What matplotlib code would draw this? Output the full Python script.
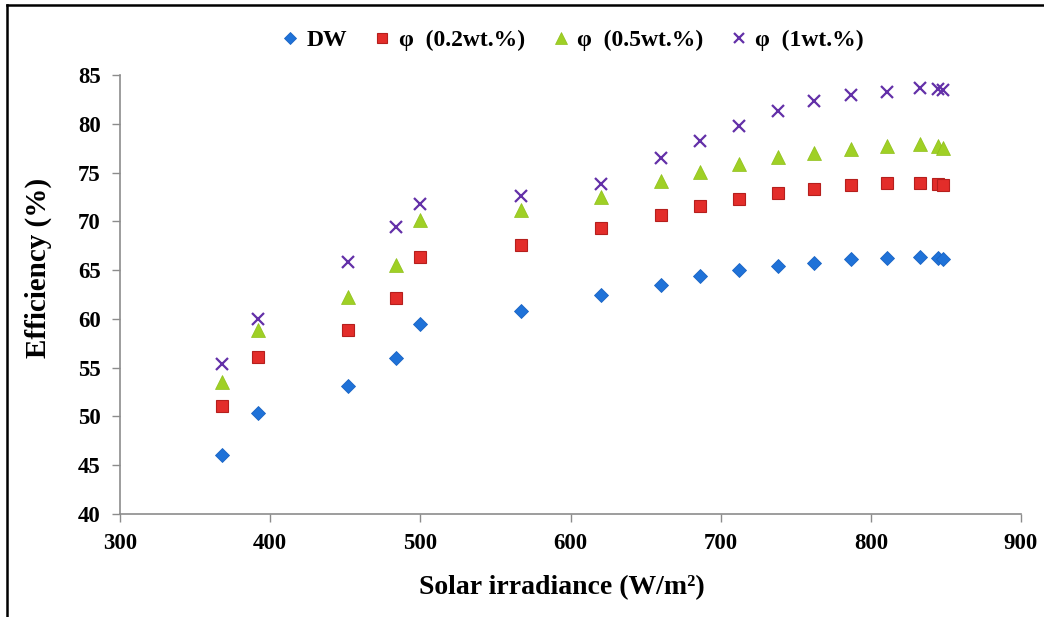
import matplotlib
matplotlib.use("Agg")
import matplotlib.pyplot as plt
from matplotlib.lines import Line2D

# Solar irradiance (W/m2)
irradiance = [368, 392, 452, 484, 500, 567, 620, 660, 686, 712, 738, 762, 787, 811, 833, 845, 848]

# Collector efficiency (%) for each working fluid
eff_dw = [46.0, 50.4, 53.1, 56.0, 59.5, 60.8, 62.4, 63.5, 64.4, 65.0, 65.4, 65.7, 66.1, 66.2, 66.3, 66.2, 66.1]
eff_02 = [51.1, 56.1, 58.9, 62.1, 66.3, 67.6, 69.3, 70.7, 71.6, 72.3, 72.9, 73.3, 73.7, 73.9, 73.9, 73.8, 73.7]
eff_05 = [53.5, 58.9, 62.2, 65.5, 70.1, 71.2, 72.5, 74.1, 75.1, 75.9, 76.6, 77.0, 77.4, 77.7, 77.9, 77.7, 77.5]
eff_1 = [55.4, 60.0, 65.8, 69.4, 71.8, 72.6, 73.8, 76.5, 78.2, 79.8, 81.3, 82.3, 82.9, 83.3, 83.7, 83.6, 83.5]

labels = ["DW", "φ  (0.2wt.%)", "φ  (0.5wt.%)", "φ  (1wt.%)"]
x_ticks = [300, 400, 500, 600, 700, 800, 900]
y_ticks = [40, 45, 50, 55, 60, 65, 70, 75, 80, 85]

plt.rcParams["font.family"] = ["Liberation Serif", "DejaVu Serif"]
plt.rcParams["font.weight"] = "bold"

fig = plt.figure(figsize=(10.44, 6.17), dpi=100)
ax = fig.add_axes([120 / 1044, 1 - 514 / 617, (1021 - 120) / 1044, (514 - 75) / 617])

ax.plot(irradiance, eff_dw, linestyle="none", marker="D", markersize=6.8,
        markerfacecolor="#1f72d8", markeredgecolor="#1b64c4", markeredgewidth=0.6, label=labels[0])
ax.plot(irradiance, eff_02, linestyle="none", marker="s", markersize=9.0,
        markerfacecolor="#e32d2a", markeredgecolor="#b51f1d", markeredgewidth=0.8, label=labels[1])
ax.plot(irradiance, eff_05, linestyle="none", marker="^", markersize=9.6,
        markerfacecolor="#9fd025", markeredgecolor="#8fbf1a", markeredgewidth=0.5, label=labels[2])
ax.plot(irradiance, eff_1, linestyle="none", marker="x", markersize=8.4,
        markeredgecolor="#6330a8", markeredgewidth=1.6, label=labels[3])

ax.set_xlim(300, 900)
ax.set_ylim(40, 85)
ax.set_xticks(x_ticks)
ax.set_yticks(y_ticks)
ax.tick_params(axis="both", direction="out", length=6, width=1, color="#8c8c8c",
               labelsize=16.5, pad=8)
for lbl in ax.get_xticklabels() + ax.get_yticklabels():
    lbl.set_fontweight("bold")

for side in ("top", "right"):
    ax.spines[side].set_visible(False)
for side in ("left", "bottom"):
    ax.spines[side].set_color("#8c8c8c")
    ax.spines[side].set_linewidth(1.2)

ax.set_xlabel("Solar irradiance (W/m²)", fontsize=20, fontweight="bold")
ax.xaxis.set_label_coords((562 - 120) / 901, -(575 - 514) / 439)
ax.set_ylabel("Efficiency (%)", fontsize=21, fontweight="bold")
ax.yaxis.set_label_coords(-(120 - 52) / 901, (514 - 268) / 439)

ax.legend(loc="center", bbox_to_anchor=(571 / 1044, 1 - 40 / 617), bbox_transform=fig.transFigure,
          ncol=4, frameon=False, prop={"size": 17, "weight": "bold"},
          handletextpad=0.2, columnspacing=1.0, handlelength=1.0, markerscale=0.85)

# Frame lines along the top and left edges of the figure
fig.add_artist(Line2D([7 / 1044, 1.0], [1 - 5 / 617, 1 - 5 / 617], transform=fig.transFigure,
                      color="black", linewidth=1.8))
fig.add_artist(Line2D([7 / 1044, 7 / 1044], [0.0, 1 - 5 / 617], transform=fig.transFigure,
                      color="black", linewidth=1.8))

fig.savefig("out.png", dpi=100)
